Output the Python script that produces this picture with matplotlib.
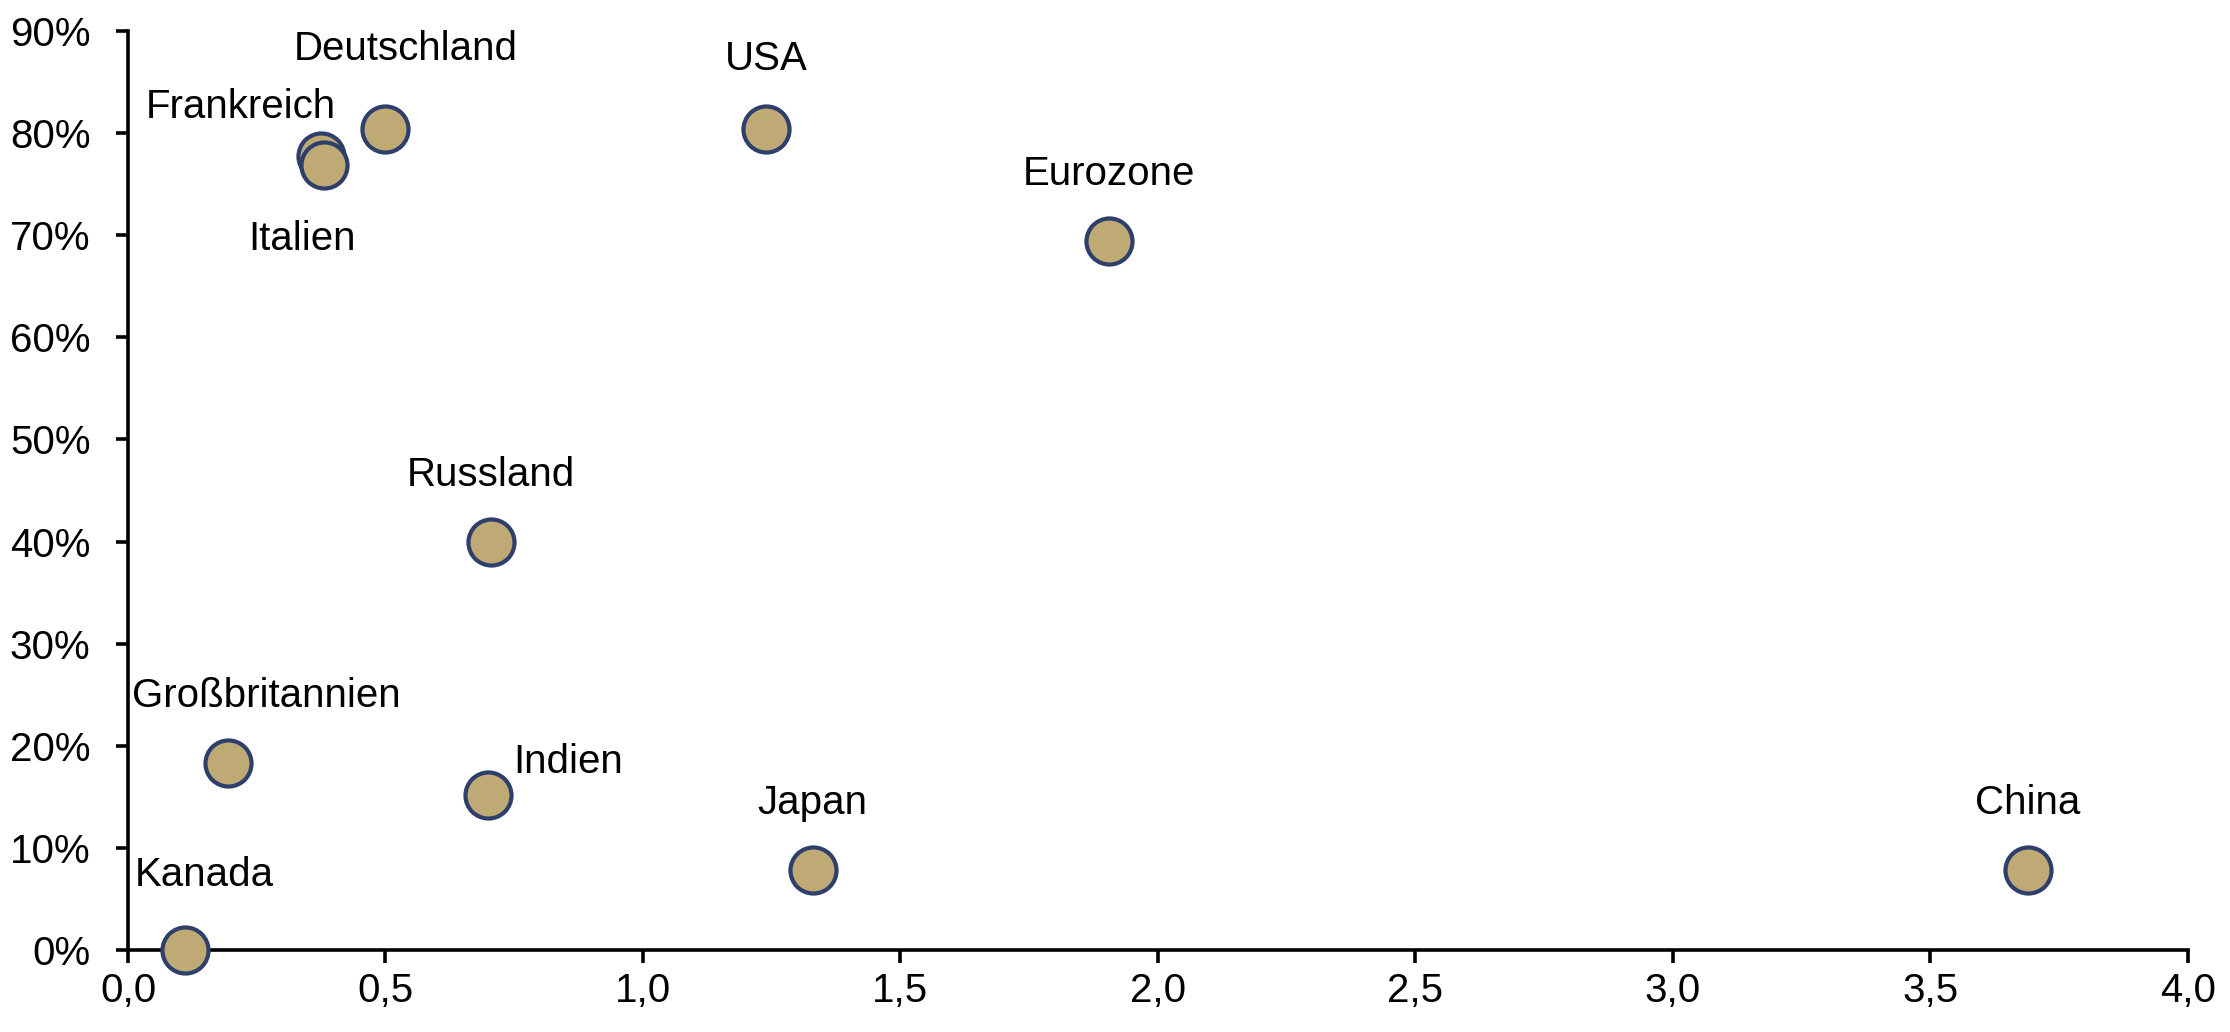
import matplotlib
matplotlib.use("Agg")
import matplotlib.pyplot as plt
from matplotlib.ticker import FuncFormatter, MultipleLocator

countries = ["Kanada", "Großbritannien", "Indien", "Japan", "China", "Russland",
             "Eurozone", "USA", "Deutschland", "Frankreich", "Italien"]
x_vals = [0.11, 0.195, 0.70, 1.33, 3.69, 0.705, 1.905, 1.24, 0.50, 0.375, 0.38]
y_vals = [0.0, 18.3, 15.2, 7.8, 7.8, 40.0, 69.4, 80.4, 80.4, 77.8, 76.9]
# label offsets in pixels (dx, dy) relative to each point
label_dx = [20, 38, 80, 0, 0, 0, 0, 0, 20, -80, -22]
label_dy = [75, 67, 33, 67, 67, 67, 67, 70, 80, 49, -74]

plt.rcParams['font.family'] = ['Liberation Sans', 'DejaVu Sans']

fig = plt.figure(figsize=(22.3, 10.32), dpi=100)
ax = fig.add_axes([0.0574, 0.0795, 0.9236, 0.8905])

ax.scatter(x_vals, y_vals, s=1100, facecolor="#BFAA76", edgecolor="#2E3F6B",
           linewidth=3.0, zorder=3, clip_on=False)

for name, x, y, dx, dy in zip(countries, x_vals, y_vals, label_dx, label_dy):
    ax.annotate(name, (x, y), xytext=(dx, dy), textcoords="offset pixels",
                ha="center", va="center", fontsize=29, color="black")

ax.set_xlim(0, 4.0)
ax.set_ylim(0, 90)
ax.xaxis.set_major_locator(MultipleLocator(0.5))
ax.yaxis.set_major_locator(MultipleLocator(10))
ax.xaxis.set_major_formatter(FuncFormatter(lambda v, p: f"{v:.1f}".replace(".", ",")))
ax.yaxis.set_major_formatter(FuncFormatter(lambda v, p: f"{v:.0f}%"))

for s in ["top", "right"]:
    ax.spines[s].set_visible(False)
for s in ["left", "bottom"]:
    ax.spines[s].set_linewidth(2.6)
    ax.spines[s].set_color("black")
ax.tick_params(axis="both", which="major", direction="out", length=9, width=2.6,
               labelsize=29, colors="black")
ax.tick_params(axis="x", pad=7)
ax.tick_params(axis="y", pad=18)

fig.savefig("out.png", dpi=100)
